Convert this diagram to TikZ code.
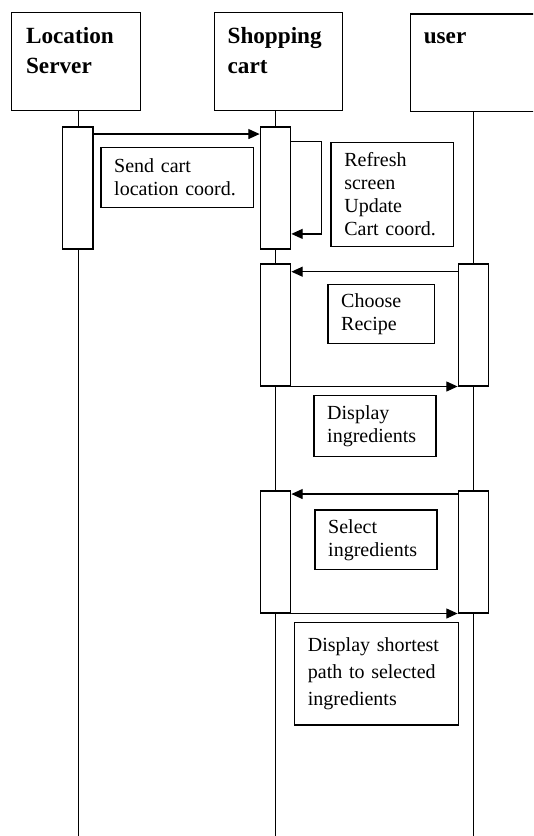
\documentclass[tikz,border=0pt]{standalone}
\usepackage{fontspec}
\setmainfont{Liberation Serif}
\usetikzlibrary{arrows.meta}
\begin{document}
\begin{tikzpicture}[x=0.75pt,y=-0.75pt,
  line width=0.9pt,
  headbox/.style={draw, fill=white, anchor=north west, inner sep=0pt,
    minimum width=#1, minimum height=73.7pt},
  headtext/.style={anchor=base west, inner sep=0pt, text width=95pt, align=left,
    font=\bfseries\fontsize{17.4}{22.3}\selectfont},
  actbox/.style={draw, fill=white, anchor=north, inner sep=0pt,
    minimum width=22.9pt, minimum height=91.5pt},
  lifeline/.style={line width=0.75pt},
  msg/.style={line width=0.9pt, -{Triangle[length=8.5pt,width=7.5pt]}},
  note/.style n args={2}{draw, fill=white, anchor=north west, align=left,
    inner xsep=10pt, inner ysep=0pt, text width=#1, minimum height=#2,
    font=\fontsize{15}{17.25}\selectfont}]
  \useasboundingbox (0,0) rectangle (533,836);
  \clip (0,0) rectangle (533,836);
  \fill[white] (0,0) rectangle (533,836);

  % lifelines
  \coordinate (lsTop) at (78,110);   \coordinate (lsBot) at (78,836);
  \coordinate (scTop) at (275.5,110); \coordinate (scBot) at (275.5,836);
  \coordinate (usTop) at (473.3,110); \coordinate (usBot) at (473.3,836);
  \draw[lifeline] (lsTop) -- (lsBot);
  \draw[lifeline] (scTop) -- (scBot);
  \draw[lifeline] (usTop) -- (usBot);

  % object headers
  \node[headbox=96.4pt] (lsH) at (11.2,11.7) {};
  \node[headbox=96.1pt] (scH) at (213.5,11.7) {};
  \node[headbox=110pt, minimum height=73pt] (usH) at (409.6,13.3) {};
  \node[headtext] (lsT) at (25.5,43.3) {Location\\Server};
  \node[headtext] (scT) at (227,43.3) {Shopping\\cart};
  \node[headtext] (usT) at (423.2,43.3) {user};

  % activation bars
  \node[actbox] (lsA) at (77.7,126.3) {};
  \node[actbox] (sc1) at (275.5,126.3) {};
  \node[actbox] (sc2) at (275.5,263.3) {};
  \node[actbox] (ua1) at (473.5,263.3) {};
  \node[actbox] (sc3) at (275.5,490.3) {};
  \node[actbox] (ua2) at (473.5,490.3) {};

  % messages
  \draw[msg] ([yshift=-5.8pt]lsA.north east) -- ([yshift=-5.8pt]sc1.north west);
  \draw[msg] ([yshift=-11.55pt]sc1.north east) -- ++(30.3,0) |- ([yshift=11.7pt]sc1.south east);
  \draw[msg] ([yshift=-6.3pt]ua1.north west) -- ([yshift=-6.3pt]sc2.north east);
  \draw[msg] (sc2.south east) -- (ua1.south west);
  \draw[msg] ([yshift=-2.8pt]ua2.north west) -- ([yshift=-2.8pt]sc3.north east);
  \draw[msg] (sc3.south east) -- (ua2.south west);

  % message notes
  \node[note={94.5pt}{45pt}] (nSend) at (100.3,146.7) {Send cart\\location coord.};
  \node[note={72pt}{78.2pt}] (nRefresh) at (330.4,141.7) {Refresh\\screen\\Update\\Cart coord.};
  \node[note={59.8pt}{44.25pt}] (nChoose) at (327.3,283.7) {Choose\\Recipe};
  \node[note={71.5pt}{46pt}] (nDisp) at (313.3,394.7) {Display\\ingredients};
  \node[note={71.5pt}{44.8pt}] (nSelect) at (314.3,509.3) {Select\\ingredients};
  \node[note={103.2pt}{77pt}, font=\fontsize{15}{20.25}\selectfont] (nPath) at (294,621.7)
    {Display shortest\\path to selected\\ingredients};
\end{tikzpicture}
\end{document}
